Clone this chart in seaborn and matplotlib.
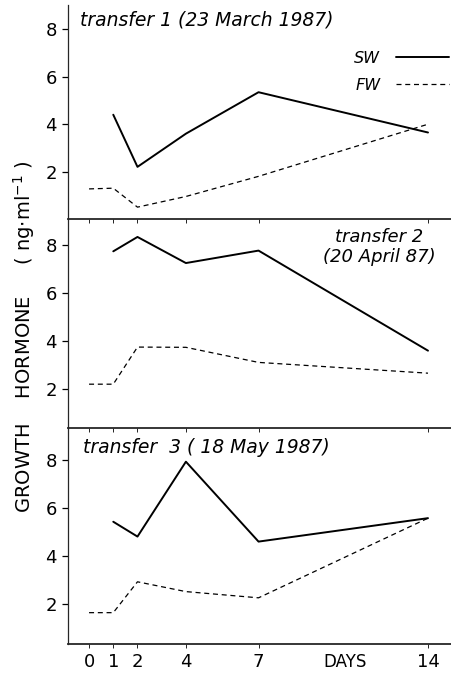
import seaborn as sns
import pandas as pd
import matplotlib.pyplot as plt
import numpy as np

# values
DAYS_SW = [1, 2, 4, 7, 14]
DAYS_FW = [0, 1, 2, 4, 7, 14]

T1_SW = [4.4, 2.2, 3.6, 5.35, 3.65]
T1_FW = [1.27, 1.3, 0.5, 0.95, 1.8, 4.0]

T2_SW = [7.75, 8.35, 7.26, 7.78, 3.6]
T2_FW = [2.2, 2.2, 3.75, 3.74, 3.11, 2.66]

T3_SW = [5.44, 4.82, 7.95, 4.61, 5.59]
T3_FW = [1.64, 1.64, 2.93, 2.52, 2.26, 5.59]

TITLES = ["transfer 1 (23 March 1987)",
          "transfer 2\n(20 April 87)",
          "transfer  3 ( 18 May 1987)"]
XTICKS = [0, 1, 2, 4, 7, 14]
YTICKS = [2, 4, 6, 8]

rows = []
for name, sw, fw in [("t1", T1_SW, T1_FW), ("t2", T2_SW, T2_FW), ("t3", T3_SW, T3_FW)]:
    for d, v in zip(DAYS_SW, sw):
        rows.append({"transfer": name, "day": d, "value": v, "water": "SW"})
    for d, v in zip(DAYS_FW, fw):
        rows.append({"transfer": name, "day": d, "value": v, "water": "FW"})
data = pd.DataFrame(rows)

sns.set_style("ticks")
plt.rcParams["font.family"] = ["DejaVu Sans"]
plt.rcParams["text.color"] = "black"
plt.rcParams["axes.labelcolor"] = "black"

fig = plt.figure(figsize=(4.51, 6.8), dpi=100)
W, H = 451, 680
left, right = 68 / W, 1.0
panels = [(5, 219), (219, 428), (427, 644)]
ylims = [(0, 9.03), (0.37, 9.1), (0.33, 9.4)]

axes = []
for (top, bot) in panels:
    ax = fig.add_axes([left, 1 - bot / H, right - left, (bot - top) / H])
    axes.append(ax)

for i, (ax, name) in enumerate(zip(axes, ["t1", "t2", "t3"])):
    sub = data[data["transfer"] == name]
    sns.lineplot(
        data=sub, x="day", y="value", style="water", hue="water",
        palette={"SW": "black", "FW": "black"},
        dashes={"SW": "", "FW": (4, 3)},
        style_order=["SW", "FW"], hue_order=["SW", "FW"],
        estimator=None, sort=False, ax=ax, legend=(i == 0),
    )
    for line in ax.get_lines():
        if line.get_linestyle() == "-":
            line.set_linewidth(1.4)
        else:
            line.set_linewidth(0.9)
    ax.set_xlim(-0.87, 14.95)
    ax.set_ylim(*ylims[i])
    ax.set_yticks(YTICKS)
    ax.set_xticks(XTICKS)
    ax.set_xlabel("")
    ax.set_ylabel("")
    ax.tick_params(axis="y", direction="out", length=4, width=0.9,
                   labelsize=13, pad=4, colors="black")
    ax.tick_params(axis="x", direction="out", length=3, width=0.6,
                   labelsize=13, colors="black")
    for s in ["top", "right"]:
        ax.spines[s].set_visible(False)
    ax.spines["left"].set_linewidth(0.9)
    ax.spines["bottom"].set_linewidth(1.3)
    ax.patch.set_alpha(0)
    if i < 2:
        ax.set_xticklabels([])

axes[0].text(0.031, 0.93, TITLES[0], transform=axes[0].transAxes,
             fontsize=13.5, style="italic", ha="left", va="center")
axes[1].text(0.96, 0.955, TITLES[1], transform=axes[1].transAxes,
             fontsize=13, style="italic", ha="right", va="top",
             multialignment="center", linespacing=1.1)
axes[2].text(0.039, 0.905, TITLES[2], transform=axes[2].transAxes,
             fontsize=13.5, style="italic", ha="left", va="center")

leg = axes[0].legend(loc="upper right", bbox_to_anchor=(0.995, 0.787),
                     frameon=False, markerfirst=False, borderpad=0,
                     borderaxespad=0, handlelength=3.3, handletextpad=1.0,
                     labelspacing=0.75, fontsize=11.5)
for t in leg.get_texts():
    t.set_style("italic")

axes[2].text(10.57, -0.083, "DAYS", transform=axes[2].get_xaxis_transform(),
             fontsize=12, ha="center", va="center")

fig.text(24 / W, 1 - 337 / H, "GROWTH    HORMONE     ( ng$\\cdot$ml$^{-1}$ )",
         rotation=90, fontsize=14, ha="center", va="center")

fig.savefig("out.png", dpi=100)
